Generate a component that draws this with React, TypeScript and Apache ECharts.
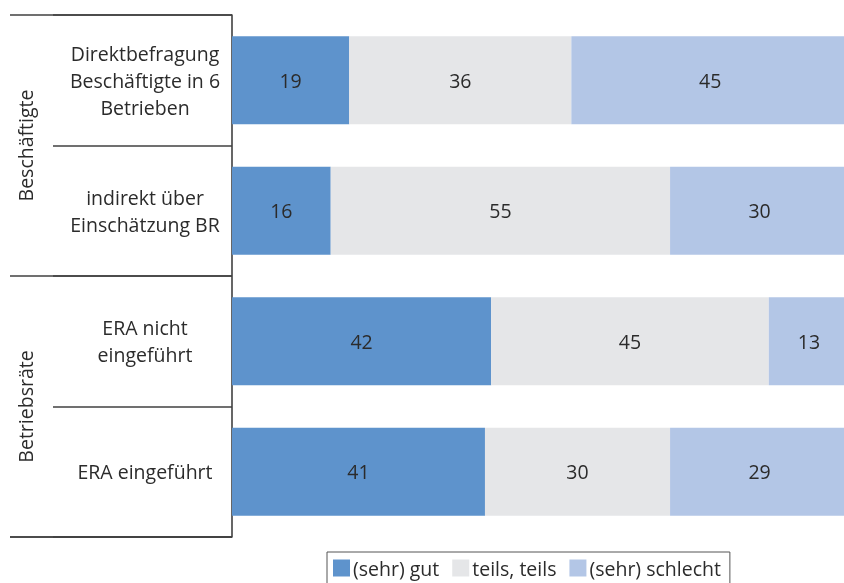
import React, { useEffect, useRef } from "react";
import * as echarts from "echarts";

const categories = [
  "Direktbefragung\nBeschäftigte in 6\nBetrieben",
  "indirekt über\nEinschätzung BR",
  "ERA nicht\neingeführt",
  "ERA eingeführt",
];
const groups = ["Beschäftigte", "Betriebsräte"];
const seriesNames = ["(sehr) gut", "teils, teils", "(sehr) schlecht"];
const gut = [19, 16, 42, 41];
const teils = [36, 55, 45, 30];
const schlecht = [45, 30, 13, 29];
const colors = ["#5E93CC", "#E5E6E8", "#B3C6E6"];

const FONT = "Open Sans";
const FS = 19.5;
const GRID_LEFT = 232;
const GROUP_TICK = 222;

export default function App() {
  const ref = useRef<HTMLDivElement>(null);
  useEffect(() => {
    if (!ref.current) return;
    const chart = echarts.init(ref.current, null, { renderer: "svg" });
    const values = [gut, teils, schlecht];
    chart.setOption({
      animation: false,
      textStyle: { fontFamily: FONT },
      grid: { left: GRID_LEFT, top: 15, height: 522, right: -5, outerBoundsMode: "none" },
      xAxis: { type: "value", min: 0, max: 100, show: false },
      yAxis: [
        {
          type: "category",
          data: categories,
          inverse: true,
          position: "left",
          axisLine: { show: true, lineStyle: { color: "#404040", width: 1.6 } },
          axisTick: { show: true, length: 179, lineStyle: { color: "#404040", width: 1.6 } },
          axisLabel: {
            margin: 87,
            align: "center",
            color: "#2b2b2b",
            fontSize: FS,
            lineHeight: 27,
            fontFamily: FONT,
          },
        },
        {
          type: "category",
          data: groups,
          inverse: true,
          position: "left",
          axisLine: { show: false },
          axisTick: { show: true, length: GROUP_TICK, lineStyle: { color: "#404040", width: 1.6 } },
          axisLabel: {
            rotate: 90,
            margin: 197,
            color: "#2b2b2b",
            fontSize: FS,
            fontFamily: FONT,
          },
        },
      ],
      legend: {
        left: 327,
        top: 552,
        icon: "rect",
        itemWidth: 17,
        itemHeight: 17,
        itemGap: 13,
        padding: [6, 9, 6, 6],
        borderColor: "#555",
        borderWidth: 1,
        textStyle: { fontSize: FS, color: "#2b2b2b", fontFamily: FONT, padding: [0, 0, 0, -2] },
        data: seriesNames,
      },
      series: seriesNames.map((name, i) => ({
        name,
        type: "bar",
        stack: "total",
        barWidth: 88,
        data: values[i],
        itemStyle: { color: colors[i] },
        label: {
          show: true,
          position: "inside",
          color: "#2b2b2b",
          fontSize: FS,
          fontFamily: FONT,
        },
      })),
    });
    // bottom group boundary line, derived from the category axis
    const n = categories.length;
    const yLast = chart.convertToPixel({ yAxisIndex: 0 }, categories[n - 1]) as number;
    const yPrev = chart.convertToPixel({ yAxisIndex: 0 }, categories[n - 2]) as number;
    const yBottom = yLast + (yLast - yPrev) / 2;
    chart.setOption({
      graphic: [
        {
          type: "line",
          shape: { x1: GRID_LEFT - GROUP_TICK, y1: yBottom, x2: GRID_LEFT, y2: yBottom },
          style: { stroke: "#404040", lineWidth: 1.6 },
        },
      ],
    });
    return () => chart.dispose();
  }, []);
  return (
    <div
      ref={ref}
      style={{ position: "fixed", left: 0, top: 0, width: 844, height: 583 }}
    />
  );
}
